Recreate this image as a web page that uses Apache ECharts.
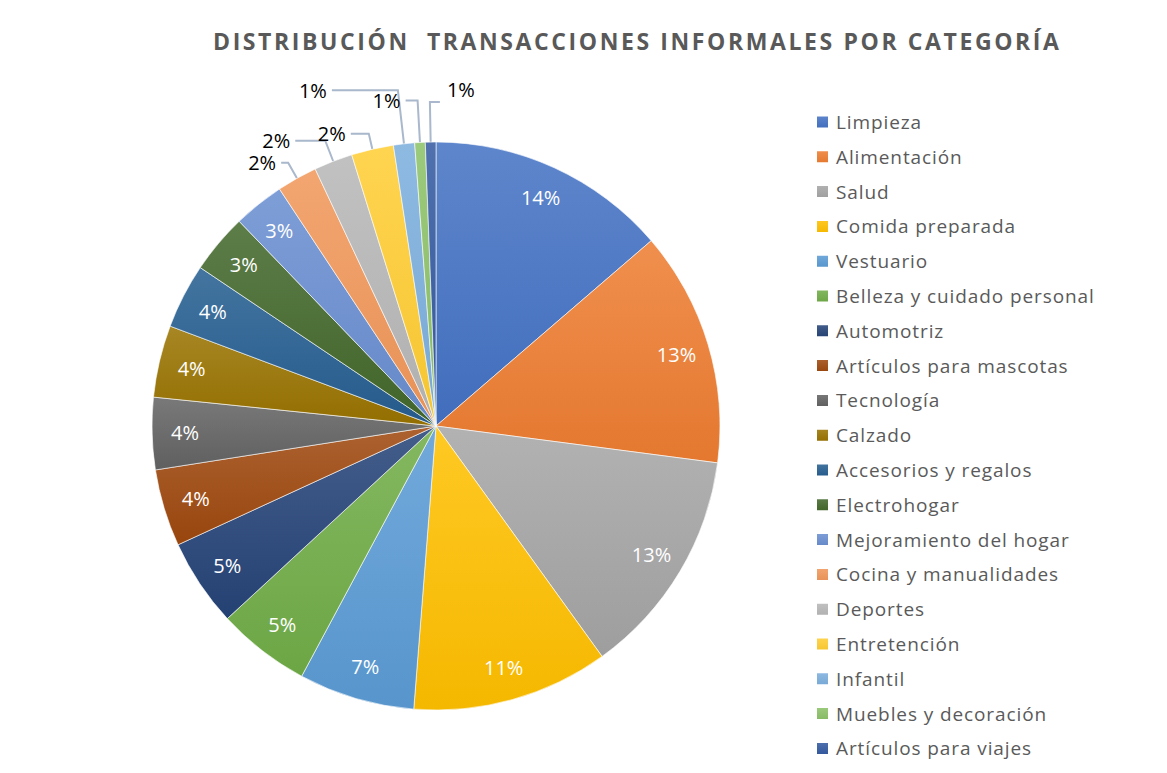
<!DOCTYPE html>
<html>
<head>
<meta charset="utf-8">
<script src="https://cdn.jsdelivr.net/npm/echarts@6/dist/echarts.min.js"></script>
<style>
  html, body { margin: 0; padding: 0; background: #fff; }
  #chart { width: 1167px; height: 773px; }
  /* Excel spreads the letters of the title and legend a little */
  #chart text[style*="bold"] { letter-spacing: 2.6px; }
  #chart text[fill="#5a5a5a"] { letter-spacing: 0.9px; }
</style>
</head>
<body>
<div id="chart"></div>
<script>
var categories = ['Limpieza', 'Alimentación', 'Salud', 'Comida preparada', 'Vestuario',
    'Belleza y cuidado personal', 'Automotriz', 'Artículos para mascotas', 'Tecnología',
    'Calzado', 'Accesorios y regalos', 'Electrohogar', 'Mejoramiento del hogar',
    'Cocina y manualidades', 'Deportes', 'Entretención', 'Infantil',
    'Muebles y decoración', 'Artículos para viajes'];
var shares = [13.7, 13.4, 13.0, 11.2, 6.6, 5.3, 5.0, 4.4, 4.1, 4.1, 3.7, 3.4, 2.9,
    2.3, 2.2, 2.4, 1.2, 0.6, 0.6];
var colors = ['#4472C4', '#ED7D31', '#A5A5A5', '#FFC000', '#5B9BD5', '#70AD47', '#264478',
    '#9E480E', '#636363', '#997300', '#255E91', '#43682B', '#698ED0', '#F1975A',
    '#B7B7B7', '#FFCD33', '#7CAFDD', '#8CC168', '#335AA1'];
// slices too thin for an inside label get an outside one
var outsideFrom = 13;
// leader line segments for the outside labels (Cocina ... Viajes)
var lineLen = [18, 22, 16, 54, 42, 40];
var lineLen2 = [7, 30, 18, 66, 12, 10];

function mix(hex, target, t) {
    var n = parseInt(hex.slice(1), 16);
    var r = (n >> 16) & 255, g = (n >> 8) & 255, b = n & 255;
    r = Math.round(r + (target - r) * t);
    g = Math.round(g + (target - g) * t);
    b = Math.round(b + (target - b) * t);
    return 'rgb(' + r + ',' + g + ',' + b + ')';
}
function grad(hex) {
    return {
        type: 'linear', x: 0, y: 0, x2: 0, y2: 1,
        colorStops: [
            {offset: 0, color: mix(hex, 255, 0.14)},
            {offset: 1, color: mix(hex, 0, 0.04)}
        ]
    };
}

var font = '"Open Sans", sans-serif';
var pctFmt = function (p) { return Math.round(p.percent) + '%'; };

var mainData = categories.map(function (name, i) {
    var outside = i >= outsideFrom;
    var item = {
        name: name,
        value: shares[i],
        itemStyle: {color: grad(colors[i])},
        label: {show: outside},
        labelLine: {show: outside}
    };
    if (outside) {
        item.labelLine.length = lineLen[i - outsideFrom];
        item.labelLine.length2 = lineLen2[i - outsideFrom];
    }
    return item;
});
var innerData = categories.map(function (name, i) {
    return {
        name: name,
        value: shares[i],
        label: {show: i < outsideFrom}
    };
});

// the last, thinnest slice has its leader turning right in the original
function flipLast(p) {
    if (p.dataIndex !== categories.length - 1 || !p.labelLinePoints) {
        return {hideOverlap: false};
    }
    var a = p.labelLinePoints[0], b = p.labelLinePoints[1];
    var end = [b[0] + 10, b[1]];
    var r = p.labelRect;
    return {
        hideOverlap: false,
        dx: end[0] + 7 - r.x,
        dy: end[1] - 13 - (r.y + r.height / 2),
        labelLinePoints: [a, b, end]
    };
}

var chart = echarts.init(document.getElementById('chart'), null, {renderer: 'svg'});
chart.setOption({
    animation: false,
    title: {
        text: 'DISTRIBUCIÓN  TRANSACCIONES INFORMALES POR CATEGORÍA',
        left: 213,
        top: 29,
        padding: 0,
        textStyle: {
            fontFamily: font,
            fontWeight: 'bold',
            fontSize: 23,
            color: '#595959'
        }
    },
    legend: {
        orient: 'vertical',
        left: 815,
        top: 112,
        padding: 0,
        icon: 'rect',
        itemWidth: 13,
        itemHeight: 13,
        itemGap: 14.8,
        data: categories,
        textStyle: {
            fontFamily: font,
            fontSize: 19,
            lineHeight: 20,
            color: '#5a5a5a',
            padding: [0, 0, 0, 2]
        }
    },
    series: [{
        type: 'pie',
        center: [436, 426],
        radius: 284,
        startAngle: 90,
        clockwise: true,
        avoidLabelOverlap: false,
        labelLayout: flipLast,
        itemStyle: {borderColor: '#fff', borderWidth: 0.6},
        label: {
            position: 'outside',
            formatter: pctFmt,
            fontFamily: font,
            fontSize: 20,
            color: '#000'
        },
        labelLine: {
            lineStyle: {color: '#A9B8CC', width: 2}
        },
        data: mainData
    }, {
        type: 'pie',
        center: [436, 426],
        radius: [212, 284],
        startAngle: 90,
        clockwise: true,
        silent: true,
        itemStyle: {color: 'rgba(0,0,0,0)'},
        label: {
            position: 'inside',
            formatter: pctFmt,
            fontFamily: font,
            fontSize: 20,
            color: '#fff'
        },
        labelLine: {show: false},
        data: innerData
    }]
});
</script>
</body>
</html>
